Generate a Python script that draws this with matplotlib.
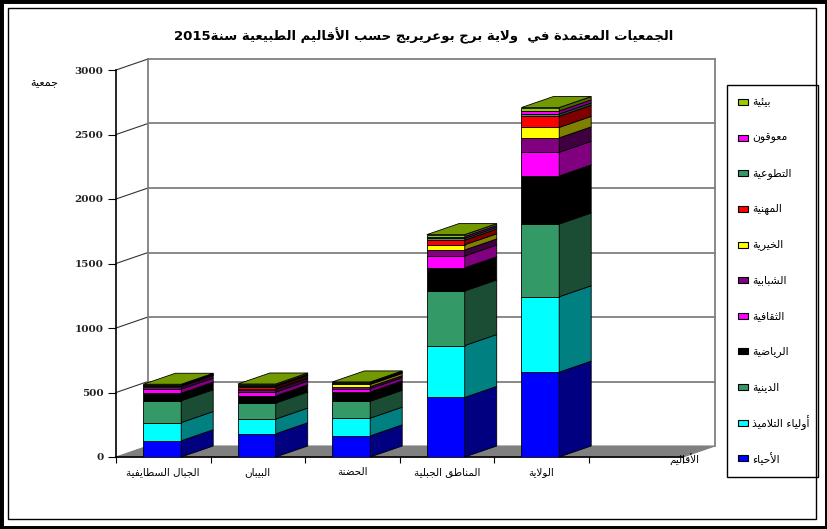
import re
import numpy as np
import matplotlib
matplotlib.use("Agg")
import matplotlib.pyplot as plt
from matplotlib.patches import Polygon, Rectangle
from matplotlib.colors import to_rgb

plt.rcParams["font.family"] = ["DejaVu Sans"]

# ---- data -------------------------------------------------------------
title = "الجمعيات المعتمدة في  ولاية برج بوعريريج حسب الأقاليم الطبيعية سنة2015"
y_title = "جمعية"
x_title = "الأقاليم"
categories = ["الجبال السطايفية", "البيبان", "الحضنة", "المناطق الجبلية", "الولاية"]

# stacked bottom -> top
series = ["الأحياء", "أولياء التلاميذ", "الدينية", "الرياضية", "الثقافية",
          "الشبابية", "الخيرية", "المهنية", "التطوعية", "معوقون", "بيئية"]
ahyaa = [126, 180, 164, 462, 658]
awliyaa = [141, 114, 137, 402, 584]
diniya = [169, 124, 131, 423, 564]
riyadiya = [59, 56, 72, 180, 373]
thaqafiya = [31, 29, 26, 91, 183]
shababiya = [20, 20, 15, 47, 112]
khayriya = [4, 8, 18, 40, 81]
mihaniya = [4, 14, 5, 36, 86]
tatawwuiya = [3, 5, 4, 14, 18]
muawwaqun = [3, 6, 4, 14, 24]
biiya = [4, 10, 6, 15, 26]
values = [ahyaa, awliyaa, diniya, riyadiya, thaqafiya, shababiya,
          khayriya, mihaniya, tatawwuiya, muawwaqun, biiya]
colors = ["#0000FF", "#00FFFF", "#339966", "#000000", "#FF00FF", "#800080",
          "#FFFF00", "#FF0000", "#339966", "#FF00FF", "#99CC00"]
y_ticks = [0, 500, 1000, 1500, 2000, 2500, 3000]


# ---- arabic shaping (no reshaper lib available offline) ---------------
_FORMS = {
    "ء": (0xFE80, 1), "آ": (0xFE81, 2), "أ": (0xFE83, 2), "ؤ": (0xFE85, 2),
    "إ": (0xFE87, 2), "ئ": (0xFE89, 4), "ا": (0xFE8D, 2), "ب": (0xFE8F, 4),
    "ة": (0xFE93, 2), "ت": (0xFE95, 4), "ث": (0xFE99, 4), "ج": (0xFE9D, 4),
    "ح": (0xFEA1, 4), "خ": (0xFEA5, 4), "د": (0xFEA9, 2), "ذ": (0xFEAB, 2),
    "ر": (0xFEAD, 2), "ز": (0xFEAF, 2), "س": (0xFEB1, 4), "ش": (0xFEB5, 4),
    "ص": (0xFEB9, 4), "ض": (0xFEBD, 4), "ط": (0xFEC1, 4), "ظ": (0xFEC5, 4),
    "ع": (0xFEC9, 4), "غ": (0xFECD, 4), "ف": (0xFED1, 4), "ق": (0xFED5, 4),
    "ك": (0xFED9, 4), "ل": (0xFEDD, 4), "م": (0xFEE1, 4), "ن": (0xFEE5, 4),
    "ه": (0xFEE9, 4), "و": (0xFEED, 2), "ى": (0xFEEF, 2), "ي": (0xFEF1, 4),
}
_LAM_ALEF = {"ا": 0xFEFB, "أ": 0xFEF7, "إ": 0xFEF9, "آ": 0xFEF5}


def ar(text):
    ch = list(text)
    n = len(ch)
    out = []

    def joins_left(k):
        return 0 <= k < n and ch[k] in _FORMS and _FORMS[ch[k]][1] == 4

    i = 0
    while i < n:
        c = ch[i]
        if c not in _FORMS:
            out.append(c)
            i += 1
            continue
        prev = joins_left(i - 1)
        if c == "ل" and i + 1 < n and ch[i + 1] in _LAM_ALEF:
            out.append(chr(_LAM_ALEF[ch[i + 1]] + (1 if prev else 0)))
            i += 2
            continue
        base, nf = _FORMS[c]
        nxt = nf == 4 and i + 1 < n and ch[i + 1] in _FORMS and _FORMS[ch[i + 1]][1] > 1
        if nf == 1:
            form = 0
        elif prev and nxt:
            form = 3
        elif prev:
            form = 1
        elif nxt:
            form = 2
        else:
            form = 0
        out.append(chr(base + form))
        i += 1
    vis = "".join(out)[::-1]
    return re.sub(r"[0-9]+", lambda m: m.group(0)[::-1], vis)


def shade(c, k):
    r, g, b = to_rgb(c)
    return (r * k, g * k, b * k)


# ---- figure -----------------------------------------------------------
W, H, DPI = 828, 529, 100
fig = plt.figure(figsize=(W / DPI, H / DPI), dpi=DPI)


def fp(x, y):
    return (x / W, 1 - y / H)


X0, X1, Y0, Y1 = 116, 683, 457, 70
ax = fig.add_axes([X0 / W, 1 - Y0 / H, (X1 - X0) / W, (Y0 - Y1) / H])
n_slots = 6
ax.set_xlim(0, n_slots)
ax.set_ylim(0, 3000)
ax.patch.set_alpha(0)

# 3D depth: 32 px right, 11 px up, in data units
ddx = 32 / ((X1 - X0) / n_slots)
ddy = 11 * 3000 / (Y0 - Y1)

GRID = "#808080"
ax.add_patch(Polygon([(0, 0), (n_slots, 0), (n_slots + ddx, ddy), (ddx, ddy)],
                     closed=True, fc="#808080", ec="#808080", lw=0.8,
                     clip_on=False, zorder=1))
for v in y_ticks[1:]:
    ax.plot([ddx, n_slots + ddx], [v + ddy, v + ddy], color=GRID, lw=1.3,
            clip_on=False, zorder=1)
    ax.plot([0, ddx], [v, v + ddy], color="#333333", lw=0.8,
            clip_on=False, zorder=1)
for xv in (ddx, n_slots + ddx):
    ax.plot([xv, xv], [ddy, 3000 + ddy], color=GRID, lw=1.3, clip_on=False, zorder=1)

# bars
xl = np.arange(len(categories)) + 0.29
bw = 0.40
bottom = np.zeros(len(categories))
for s, vals in enumerate(values):
    vals = np.array(vals, dtype=float)
    ax.bar(xl, vals, bw, bottom=bottom, align="edge", color=colors[s],
           edgecolor="black", lw=0.6, zorder=3)
    for i in range(len(categories)):
        xa = xl[i] + bw
        ya, yb = bottom[i], bottom[i] + vals[i]
        ax.add_patch(Polygon([(xa, ya), (xa + ddx, ya + ddy), (xa + ddx, yb + ddy), (xa, yb)],
                             closed=True, fc=shade(colors[s], 0.5), ec="black",
                             lw=0.6, zorder=3, clip_on=False))
    bottom += vals
for i in range(len(categories)):
    t = bottom[i]
    ax.add_patch(Polygon([(xl[i], t), (xl[i] + bw, t), (xl[i] + bw + ddx, t + ddy), (xl[i] + ddx, t + ddy)],
                         closed=True, fc=shade(colors[-1], 0.75), ec="black",
                         lw=0.6, zorder=3, clip_on=False))

# axes
for sp in ("top", "right"):
    ax.spines[sp].set_visible(False)
ax.spines["left"].set_linewidth(1.2)
ax.spines["bottom"].set_linewidth(1.2)
ax.spines["left"].set_zorder(2)
ax.spines["bottom"].set_zorder(2)
ax.set_yticks(y_ticks)
ax.set_yticklabels([str(v) for v in y_ticks], family="DejaVu Serif",
                   fontweight="bold", fontsize=7.5, color="#222222")
ax.tick_params(axis="y", length=6, width=0.8, pad=3)
ax.set_xticks(np.arange(n_slots + 1))
ax.set_xticklabels([])
ax.tick_params(axis="x", which="major", length=4, width=0.8)
ax.set_xticks(np.arange(len(categories)) + 0.5, minor=True)
ax.set_xticklabels([ar(c) for c in categories], minor=True, fontsize=7.5)
ax.tick_params(axis="x", which="minor", length=0, pad=7)

# texts
fig.text(*fp(424, 36), ar(title), ha="center", va="center", fontsize=9.5,
         fontweight="bold")
fig.text(*fp(44, 83), ar(y_title), ha="center", va="center", fontsize=8)
fig.text(*fp(684, 460), ar(x_title), ha="center", va="center", fontsize=7.5)

# legend
fig.patches.append(Rectangle(fp(727, 477), 91 / W, 392 / H, transform=fig.transFigure,
                             fill=False, ec="black", lw=1))
for k, s in enumerate(range(len(series) - 1, -1, -1)):
    yc = 102.2 + k * 35.6
    fig.patches.append(Rectangle(fp(738, yc + 3), 10 / W, 6 / H, transform=fig.transFigure,
                                 fc=colors[s], ec="black", lw=0.8))
    fig.text(*fp(752, yc), ar(series[s]), ha="left", va="center", fontsize=7.8)

# outer frame
fig.patches.append(Rectangle((0, 0), 1, 1, transform=fig.transFigure, fill=False,
                             ec="black", lw=5))
fig.patches.append(Rectangle(fp(8, 519), 808 / W, 511 / H, transform=fig.transFigure,
                             fill=False, ec="black", lw=1))

fig.savefig("out.png", dpi=DPI)
